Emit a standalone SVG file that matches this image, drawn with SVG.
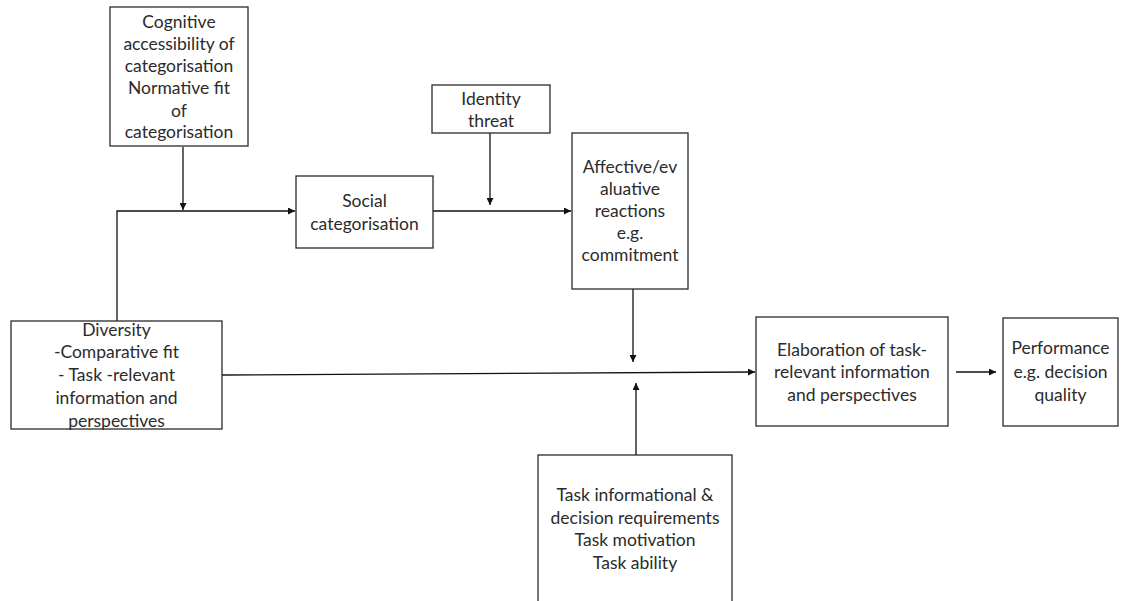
<svg xmlns="http://www.w3.org/2000/svg" width="1122" height="601" viewBox="0 0 1122 601">
  <style>
    .box { fill: #ffffff; stroke: #2a2a2a; stroke-width: 1.3; }
    .lbl { font-family: Lato, "Liberation Sans", sans-serif; font-size: 17.5px; fill: #2b2b2b; text-anchor: middle; }
    .wire { fill: none; stroke: #111111; stroke-width: 1.3; }
  </style>
  <defs>
    <marker id="arrow" viewBox="0 0 10 10" refX="10" refY="5" markerWidth="7" markerHeight="7" orient="auto" markerUnits="userSpaceOnUse">
      <path d="M0,0 L10,5 L0,10 z" fill="#111111"/>
    </marker>
  </defs>
  <rect width="1122" height="601" fill="#ffffff"/>

  <!-- connectors -->
  <g id="connectors">
    <path class="wire" d="M183,147 V210" marker-end="url(#arrow)"/>
    <path class="wire" d="M117,321 V211 H295" marker-end="url(#arrow)"/>
    <path class="wire" d="M490,133 V205" marker-end="url(#arrow)"/>
    <path class="wire" d="M433,211 H571" marker-end="url(#arrow)"/>
    <path class="wire" d="M633,289 V362" marker-end="url(#arrow)"/>
    <path class="wire" d="M222,375 L755,372" marker-end="url(#arrow)"/>
    <path class="wire" d="M636,455 V383" marker-end="url(#arrow)"/>
    <path class="wire" d="M956,372 H996" marker-end="url(#arrow)"/>
  </g>

  <g id="cognitive">
    <rect class="box" x="110" y="7" width="138" height="139"/>
    <text class="lbl" x="179" y="28">Cognitive</text>
    <text class="lbl" x="179" y="50">accessibility of</text>
    <text class="lbl" x="179" y="72">categorisation</text>
    <text class="lbl" x="179" y="94">Normative fit</text>
    <text class="lbl" x="179" y="117">of</text>
    <text class="lbl" x="179" y="138">categorisation</text>
  </g>

  <g id="social">
    <rect class="box" x="296" y="176" width="137" height="72"/>
    <text class="lbl" x="364.5" y="207">Social</text>
    <text class="lbl" x="364.5" y="230">categorisation</text>
  </g>

  <g id="identity">
    <rect class="box" x="432" y="85" width="118" height="48"/>
    <text class="lbl" x="491" y="105">Identity</text>
    <text class="lbl" x="491" y="127">threat</text>
  </g>

  <g id="affective">
    <rect class="box" x="572" y="133" width="116" height="156"/>
    <text class="lbl" x="630" y="173">Affective/ev</text>
    <text class="lbl" x="630" y="195">aluative</text>
    <text class="lbl" x="630" y="217">reactions</text>
    <text class="lbl" x="630" y="239">e.g.</text>
    <text class="lbl" x="630" y="261">commitment</text>
  </g>

  <g id="diversity">
    <rect class="box" x="11" y="321" width="211" height="108"/>
    <text class="lbl" x="116.5" y="336">Diversity</text>
    <text class="lbl" x="116.5" y="358">-Comparative fit</text>
    <text class="lbl" x="116.5" y="381">- Task -relevant</text>
    <text class="lbl" x="116.5" y="404">information and</text>
    <text class="lbl" x="116.5" y="427">perspectives</text>
  </g>

  <g id="elaboration">
    <rect class="box" x="756" y="317" width="192" height="109"/>
    <text class="lbl" x="852" y="356">Elaboration of task-</text>
    <text class="lbl" x="852" y="378">relevant information</text>
    <text class="lbl" x="852" y="401">and perspectives</text>
  </g>

  <g id="performance">
    <rect class="box" x="1003" y="318" width="115" height="108"/>
    <text class="lbl" x="1060.5" y="354">Performance</text>
    <text class="lbl" x="1060.5" y="378">e.g. decision</text>
    <text class="lbl" x="1060.5" y="401">quality</text>
  </g>

  <g id="task">
    <rect class="box" x="538" y="455" width="194" height="160"/>
    <text class="lbl" x="635" y="501">Task informational &amp;</text>
    <text class="lbl" x="635" y="524">decision requirements</text>
    <text class="lbl" x="635" y="546">Task motivation</text>
    <text class="lbl" x="635" y="569">Task ability</text>
  </g>
</svg>
